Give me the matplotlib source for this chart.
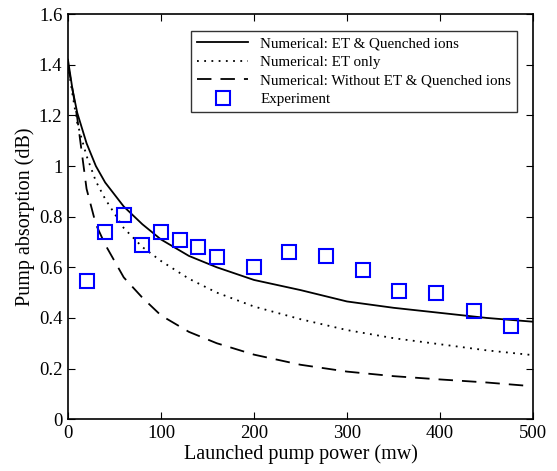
import matplotlib.pyplot as plt

plt.rcParams["font.family"] = ["Liberation Serif", "DejaVu Serif"]

# numerical curves
x_num = [0, 5, 10, 20, 30, 40, 60, 80, 100, 130, 160, 200, 250, 300, 350, 400, 450, 500]
y_et_quenched = [1.42, 1.30, 1.21, 1.09, 1.00, 0.935, 0.84, 0.77, 0.71, 0.645, 0.60, 0.55,
                 0.51, 0.465, 0.44, 0.42, 0.40, 0.385]
y_et_only = [1.40, 1.28, 1.17, 1.04, 0.94, 0.87, 0.755, 0.68, 0.625, 0.555, 0.50, 0.445,
             0.395, 0.352, 0.32, 0.296, 0.272, 0.253]
x_without = [0, 5, 10, 20, 30, 40, 60, 80, 100, 130, 160, 200, 250, 300, 350, 400, 450, 490]
y_without = [1.40, 1.30, 1.19, 0.91, 0.77, 0.69, 0.56, 0.48, 0.41, 0.345, 0.30, 0.255,
             0.215, 0.188, 0.17, 0.157, 0.145, 0.133]

# experiment
x_exp = [20, 40, 60, 80, 100, 120, 140, 160, 200, 238, 277, 317, 356, 396, 437, 476]
y_exp = [0.545, 0.74, 0.805, 0.688, 0.74, 0.708, 0.68, 0.642, 0.603, 0.661, 0.643, 0.59,
         0.505, 0.499, 0.428, 0.368]

fig = plt.figure(figsize=(5.57, 4.71), dpi=100)
ax = fig.add_axes([0.122, 0.110, 0.835, 0.860])

ax.plot(x_num, y_et_quenched, color="black", linewidth=1.3, label="Numerical: ET & Quenched ions")
ax.plot(x_num, y_et_only, color="black", linewidth=1.3, linestyle=(0, (1, 3)), label="Numerical: ET only")
ax.plot(x_without, y_without, color="black", linewidth=1.3, linestyle=(0, (8, 5)),
        label="Numerical: Without ET & Quenched ions")
ax.plot(x_exp, y_exp, linestyle="none", marker="s", markersize=10, markerfacecolor="none",
        markeredgecolor="blue", markeredgewidth=1.5, label="Experiment")

ax.set_xlim(0, 500)
ax.set_ylim(0, 1.6)
ax.set_xticks([0, 100, 200, 300, 400, 500])
ax.set_yticks([0, 0.2, 0.4, 0.6, 0.8, 1, 1.2, 1.4, 1.6])
ax.set_yticklabels(["0", "0.2", "0.4", "0.6", "0.8", "1", "1.2", "1.4", "1.6"])
ax.tick_params(direction="in", top=True, right=True, labelsize=13.5, length=5, pad=4)
for s in ax.spines.values():
    s.set_linewidth(1.2)

ax.set_xlabel("Launched pump power (mw)", fontsize=14.5, labelpad=2)
ax.set_ylabel("Pump absorption (dB)", fontsize=14.5, labelpad=3)

leg = ax.legend(loc="upper right", bbox_to_anchor=(0.966, 0.958), borderaxespad=0,
                fontsize=10.8, frameon=True, fancybox=False, edgecolor="black",
                handlelength=3.4, borderpad=0.4, labelspacing=0.33)
leg.get_frame().set_linewidth(1.0)

fig.savefig("out.png", dpi=100)
